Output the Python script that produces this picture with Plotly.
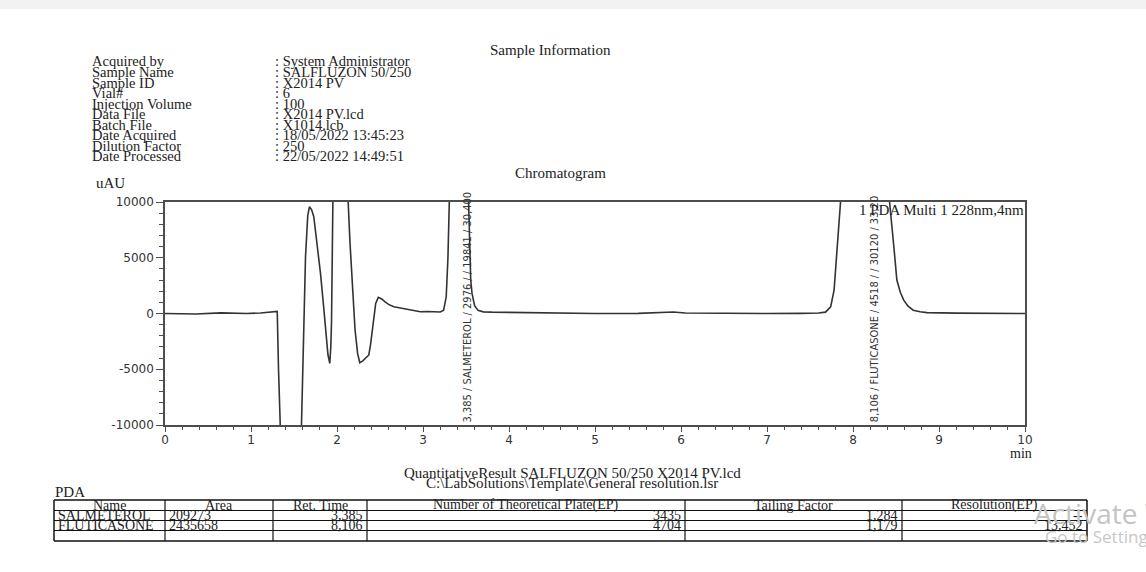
import plotly.graph_objects as go

W, H = 1146, 572

# ---------------- data ----------------
rt_min = [0.00, 0.15, 0.36, 0.65, 0.95, 1.11, 1.24, 1.29, 1.305, 1.32, 1.335, 1.40, 1.52,
          1.587, 1.634, 1.66, 1.68, 1.705, 1.73, 1.77, 1.808, 1.84, 1.866, 1.895, 1.916,
          1.928, 1.936, 1.945, 1.952, 2.04, 2.13, 2.15, 2.17, 2.19, 2.21, 2.24, 2.265,
          2.30, 2.33, 2.37, 2.39, 2.41, 2.45, 2.48, 2.52, 2.555, 2.60, 2.66, 2.74, 2.82,
          2.90, 2.97, 3.05, 3.12, 3.20, 3.24, 3.27, 3.29, 3.31, 3.385, 3.53, 3.545, 3.555,
          3.57, 3.60, 3.64, 3.70, 3.80, 4.2, 4.6, 5.0, 5.5, 5.8, 5.91, 6.05, 6.5, 7.0, 7.4,
          7.6, 7.68, 7.74, 7.78, 7.82, 7.855, 7.95, 8.106, 8.30, 8.425, 8.475, 8.51, 8.55,
          8.59, 8.64, 8.70, 8.78, 8.86, 9.2, 9.6, 10.0]
signal_uAU = [0, -20, -50, 60, 0, 50, 150, 210, 190, -5000, -10000, -25000, -25000,
              -10000, 5100, 8800, 9580, 9300, 8680, 6200, 3600, 1000, -1480, -3700, -4470,
              -3000, -880, 5000, 10000, 40000, 10000, 6500, 3600, 1000, -1480, -3600, -4410,
              -4250, -4020, -3720, -2800, -1480, 910, 1450, 1300, 1060, 820, 610, 480, 370,
              250, 160, 180, 170, 140, 300, 1500, 5000, 10000, 35000, 10000, 5000, 3000,
              1800, 700, 280, 150, 120, 60, 20, 0, 10, 60, 130, 40, 0, 0, 10,
              40, 120, 600, 2100, 6000, 10000, 60000, 120000, 60000, 10000, 6000, 3000, 1900,
              1200, 650, 300, 150, 80, 30, 0, 0]

peak_label_x = [3.52, 8.25]
peak_labels = ["3,385 / SALMETEROL / 2976 / / 19841 / 30,400",
               "8,106 / FLUTICASONE / 4518 / / 30120 / 33,20"]

y_ticks = [-10000, -5000, 0, 5000, 10000]
y_tick_text = ["-10000", "-5000", "0", "5000", "10000"]
x_ticks = [0, 1, 2, 3, 4, 5, 6, 7, 8, 9, 10]

info_labels = ["Acquired by", "Sample Name", "Sample ID", "Vial#", "Injection Volume",
               "Data File", "Batch File", "Date Acquired", "Dilution Factor", "Date Processed"]
info_values = ["System Administrator", "SALFLUZON 50/250", "X2014 PV", "6", "100",
               "X2014 PV.lcd", "X1014.lcb", "18/05/2022 13:45:23", "250", "22/05/2022 14:49:51"]

table_header = ["Name", "Area", "Ret. Time", "Number of Theoretical Plate(EP)",
                "Tailing Factor", "Resolution(EP)"]
comp_names = ["SALMETEROL", "FLUTICASONE"]
areas = [209273, 2435658]
ret_times = [3.385, 8.106]
plates = [3435, 4704]
tailing = [1.284, 1.179]
resolution = ["--", "13,452"]

# ---------------- helpers ----------------
def px(x):
    return x / W

def py(y):
    return 1 - y / H

SERIF = "Liberation Serif, Times New Roman, serif"
SANS = "DejaVu Sans, Verdana, sans-serif"
NARROW = "Liberation Sans Narrow, DejaVu Sans Condensed, Arial Narrow, sans-serif"
WIN = "Open Sans, DejaVu Sans, sans-serif"
INK = "#222222"

fig = go.Figure()
fig.add_trace(go.Scatter(x=rt_min, y=signal_uAU, mode="lines",
                         line=dict(color="#333333", width=1.6), hoverinfo="skip",
                         showlegend=False))

annotations = []
shapes = []

# top gray strip
shapes.append(dict(type="rect", xref="paper", yref="paper", x0=0, x1=1, y0=py(9), y1=1,
                   fillcolor="#f2f2f2", line=dict(width=0), layer="below"))

def text(x, y, s, size=15, xanchor="left", font=SERIF, color=INK, angle=0, yanchor="middle",
         xref="paper", yref="paper"):
    annotations.append(dict(x=x, y=y, xref=xref, yref=yref, text=s, showarrow=False,
                            xanchor=xanchor, yanchor=yanchor, textangle=angle,
                            font=dict(family=font, size=size, color=color), borderpad=0))

# header
text(px(550), py(50), "Sample Information", xanchor="center")
for i, (lab, val) in enumerate(zip(info_labels, info_values)):
    yy = 61.5 + i * 10.55
    text(px(91), py(yy), lab, size=14.5)
    text(px(274), py(yy), ": " + val, size=14.5)
text(px(560), py(173), "Chromatogram", xanchor="center")
text(px(95), py(183), "uAU")
text(px(1021), py(453), "min", size=14, xanchor="center")

# peak labels
for lx, lab in zip(peak_label_x, peak_labels):
    text(lx, -9850, lab, size=11, xanchor="center", yanchor="bottom", font=NARROW,
         color="#333333", angle=-90, xref="x", yref="y")

text(px(1025), py(201), "1 PDA Multi 1 228nm,4nm", xanchor="right", yanchor="top")

# quantitative results title
text(px(572), py(473), "QuantitativeResult SALFLUZON 50/250 X2014 PV.lcd", xanchor="center")
text(px(572), py(483), "C:\\LabSolutions\\Template\\General resolution.lsr", xanchor="center")
text(px(54), py(492), "PDA")

# table
col_edges = [54, 165, 273, 367, 685, 902, 1087]
row_edges = [500, 510.5, 520.5, 530.5, 541]
for i, x in enumerate(col_edges):
    shapes.append(dict(type="line", xref="paper", yref="paper", x0=px(x), x1=px(x),
                       y0=py(row_edges[0]), y1=py(row_edges[-1]),
                       line=dict(color="#111111", width=1.5 if i in (0, len(col_edges) - 1) else 1.2)))
for j, y in enumerate(row_edges):
    shapes.append(dict(type="line", xref="paper", yref="paper", x0=px(col_edges[0]),
                       x1=px(col_edges[-1]), y0=py(y), y1=py(y),
                       line=dict(color="#111111", width=1.5 if j in (0, len(row_edges) - 1) else 1.2)))

for c, hdr in enumerate(table_header):
    cx = (col_edges[c] + col_edges[c + 1]) / 2
    text(px(cx), py((row_edges[0] + row_edges[1]) / 2), hdr, size=14, xanchor="center")

def fmt_dec(v):
    return f"{v:.3f}".replace(".", ",")

for r in range(len(comp_names)):
    cy = py((row_edges[r + 1] + row_edges[r + 2]) / 2)
    cells = [comp_names[r], str(areas[r]), fmt_dec(ret_times[r]), str(plates[r]),
             fmt_dec(tailing[r]), resolution[r]]
    for c, val in enumerate(cells):
        if c < 2:
            text(px(col_edges[c] + 3), cy, val, size=14, xanchor="left")
        else:
            text(px(col_edges[c + 1] - 3), cy, val, size=14, xanchor="right")

# watermark
text(px(1033), py(513), "Activate Windows", size=28, font=WIN, color="#c4c4c4")
text(px(1044), py(536), "Go to Settings to activate Windows.", size=17, font=WIN,
     color="#c8c8c8")

axis_common = dict(showgrid=False, zeroline=False, showline=True, linecolor="#4d4d4d",
                   linewidth=1.5, mirror=True, ticks="outside", tickcolor="#4d4d4d",
                   tickfont=dict(family=SANS, size=12, color="#333333"), automargin=False,
                   fixedrange=True)

fig.update_layout(
    width=W, height=H, autosize=False,
    margin=dict(l=0, r=0, t=0, b=0),
    paper_bgcolor="white", plot_bgcolor="white",
    xaxis=dict(domain=[px(165), px(1025)], range=[0, 10], tickvals=x_ticks,
               ticklen=5, tickwidth=1.2, ticklabelstandoff=-2,
               minor=dict(dtick=0.2, ticklen=3, tickcolor="#4d4d4d", ticks="outside"),
               **axis_common),
    yaxis=dict(domain=[py(425), py(202)], range=[-10000, 10000], tickvals=y_ticks,
               ticktext=y_tick_text,
               ticklen=7, tickwidth=1.2,
               minor=dict(dtick=1000, ticklen=4, tickcolor="#4d4d4d", ticks="outside"),
               **axis_common),
    annotations=annotations,
    shapes=shapes,
    showlegend=False,
)

fig.write_html("out.html")
